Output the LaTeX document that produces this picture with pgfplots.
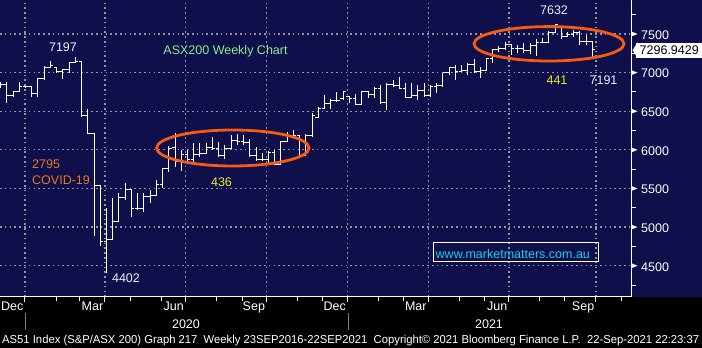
\documentclass[border=0pt]{standalone}
\usepackage{pgfplots}
\pgfplotsset{compat=1.18}
\usepackage{pgfplotstable}
\usepackage{graphicx}
\usepackage{fontspec}
\setmainfont{Liberation Sans}
\definecolor{bgnavy}{RGB}{15,15,75}
\definecolor{gridgray}{RGB}{150,150,150}
\definecolor{annwhite}{RGB}{235,240,255}
\definecolor{anngreen}{RGB}{140,235,140}
\definecolor{annorange}{RGB}{235,120,30}
\definecolor{annyellow}{RGB}{235,235,40}
\definecolor{ellred}{RGB}{250,90,15}
\definecolor{urlcyan}{RGB}{20,210,230}
\newcommand\lab{\fontsize{12.5}{15}\selectfont}

\pgfplotstableread{
u o h l c
1 6830 6880 6800 6846
2 6846 6880 6605 6710
3 6710 6760 6690 6750
4 6750 6880 6745 6816
5 6816 6830 6795 6821
6 6821 6830 6680 6735
7 6735 6930 6680 6926
8 6926 7080 6905 7065
9 7065 7150 7056 7090
10 7060 7065 6990 7017
11 7017 7043 6915 7040
12 7040 7141 7000 7125
13 7130 7197 7120 7139
14 7139 7141 6429 6441
15 6441 6525 6210 6217
16 6217 6217 4890 5539
17 5539 5545 4755 4817
18 4817 5247 4402 4842
19 4842 5376 4840 5068
20 5068 5441 5060 5388
21 5388 5570 5350 5488
22 5488 5490 5135 5242
23 5242 5440 5220 5245
24 5245 5441 5200 5391
25 5391 5480 5308 5405
26 5405 5609 5400 5550
27 5550 5770 5505 5755
28 5755 6045 5713 6020
29 6036 6218 5778 5847
30 5847 5998 5730 5942
31 5942 5998 5826 5880
32 5880 6090 5805 5940
33 5940 6085 5911 5956
34 5956 6085 5950 6033
35 6033 6160 5998 6020
36 6020 6106 5911 5928
37 5928 6063 5880 6015
38 6015 6192 6007 6127
39 6127 6205 6063 6110
40 6110 6190 6063 6100
41 6100 6136 5911 5933
42 5933 6033 5860 5870
43 5870 5963 5860 5870
44 5870 5989 5825 5965
45 5965 5998 5804 5810
46 5810 6119 5805 6102
47 6102 6235 6100 6176
48 6176 6257 6162 6180
49 6180 6192 5925 5927
50 5927 6200 5920 6190
51 6190 6473 6170 6440
52 6420 6560 6408 6539
53 6539 6710 6538 6603
54 6603 6654 6530 6637
55 6637 6753 6623 6642
56 6660 6760 6645 6753
57 6697 6697 6603 6667
58 6667 6723 6580 6587
59 6587 6760 6585 6757
60 6757 6760 6667 6715
61 6715 6818 6667 6800
62 6800 6840 6594 6607
63 6607 6862 6516 6841
64 6841 6904 6810 6830
65 6830 6947 6784 6793
66 6793 6862 6667 6673
67 6673 6862 6667 6710
68 6710 6840 6645 6767
69 6767 6862 6688 6708
70 6708 6840 6680 6824
71 6824 6862 6740 6828
72 6828 7000 6818 6995
73 6995 7070 6969 7063
74 7063 7099 6904 7017
75 7017 7099 7012 7025
76 7025 7120 6969 7105
77 7105 7172 6991 7014
78 7014 7077 6926 7030
79 7030 7185 7025 7179
80 7179 7302 7121 7295
81 7295 7340 7271 7312
82 7312 7400 7293 7369
83 7369 7370 7228 7308
84 7308 7357 7250 7308
85 7308 7380 7250 7290
86 7290 7380 7240 7352
87 7352 7431 7215 7387
88 7387 7444 7380 7392
89 7392 7543 7392 7523
90 7523 7632 7509 7620
91 7595 7600 7431 7461
92 7461 7530 7457 7488
93 7488 7552 7465 7522
94 7522 7543 7357 7400
95 7400 7487 7357 7403
96 7403 7410 7191 7297
}\ohlc

\begin{document}
\begin{tikzpicture}[x=1pt,y=1pt]
\path[use as bounding box] (0,0) rectangle (702,348);
\fill[black] (0,0) rectangle (702,348);
\fill[bgnavy] (0,51) rectangle (702,348);
\begin{axis}[
  at={(0pt,51pt)}, anchor=south west, scale only axis,
  width=631pt, height=297pt,
  xmin=0.9, xmax=102.2, ymin=4095, ymax=7940,
  axis x line*=bottom, axis y line*=right,
  axis line style={white, line width=1pt},
  xtick={4.91,17.75,30.68,43.71,56.71,69.65,82.6,96.57},
  xticklabels={Dec,Mar,Jun,Sep,Dec,Mar,Jun,Sep},
  minor xtick={10.05,13.74,21.77,26.90,35.73,39.9,48.73,52.75,61.73,65.75,74.6,78.75,87.58,91.59,100.74},
  ytick={4500,5000,5500,6000,6500,7000,7500},
  yticklabels={4500,5000,5500,6000,6500,7000,7500},
  minor ytick={4250,4750,5250,5750,6250,6750,7250,7750},
  tick align=outside, major tick length=5pt, minor tick length=4.5pt,
  tick style={white, line width=1pt},
  grid=major,
  major grid style={gridgray, line width=1.2pt, dash pattern=on 1.6pt off 3.2pt},
  x tick label style={anchor=north east, inner sep=0pt, xshift=-1.5pt, font=\lab, text=white},
  y tick label style={anchor=west, inner sep=0pt, xshift=5pt, yshift=-1pt, font=\lab, text=white},
  clip mode=individual,
]
\addplot[draw=none, mark=none,
  error bars/.cd, y dir=both, y explicit, error mark=none,
  error bar style={draw=white, line width=1pt}]
  table[x=u, y expr={(\thisrow{h}+\thisrow{l})/2}, y error expr={(\thisrow{h}-\thisrow{l})/2}] {\ohlc};
\addplot[draw=none, mark=none,
  error bars/.cd, x dir=minus, x fixed=0.48, error mark=none,
  error bar style={draw=white, line width=1pt}]
  table[x=u, y=o] {\ohlc};
\addplot[draw=none, mark=none,
  error bars/.cd, x dir=plus, x fixed=0.48, error mark=none,
  error bar style={draw=white, line width=1pt}]
  table[x=u, y=c] {\ohlc};

\pgfplotsinvokeforeach{4500,5000,5500,6000,6500,7000,7500}{
  \fill[white] (axis cs:102.2,#1) ++(0pt,2.6pt) -- ++(6.5pt,-2.6pt) -- ++(-6.5pt,-2.6pt) -- cycle;
}
\fill[white] ([xshift=1.5pt]axis cs:102.2,7290) -- ++(5pt,7.5pt) -- ++(0pt,-15pt) -- cycle;
\node[anchor=west, fill=white, text=black, font=\lab, inner xsep=3.5pt, inner ysep=3pt] at ([xshift=5pt]axis cs:102.2,7290) {7296.9429};
\end{axis}

% ellipses
\draw[ellred, line width=2.8pt] (232.8,200) ellipse [x radius=76.2, y radius=18];
\draw[ellred, line width=2.8pt] (549,304.2) ellipse [x radius=75, y radius=17.2];

% annotations
\node[anchor=base, inner sep=0pt, text=annwhite, font=\lab] at (63,296) {7197};
\node[anchor=base, inner sep=0pt, text=anngreen, font=\lab] at (225.5,293) {ASX200 Weekly Chart};
\node[anchor=base west, inner sep=0pt, text=annorange, font=\lab] at (32,179.7) {2795};
\node[anchor=base west, inner sep=0pt, text=annorange, font=\lab] at (32,163) {COVID-19};
\node[anchor=base, inner sep=0pt, text=annyellow, font=\lab] at (221.5,161.3) {436};
\node[anchor=base, inner sep=0pt, text=annwhite, font=\lab] at (126,65.7) {4402};
\node[anchor=base, inner sep=0pt, text=annwhite, font=\lab] at (554,333) {7632};
\node[anchor=base, inner sep=0pt, text=annyellow, font=\lab] at (557,263) {441};
\node[anchor=base, inner sep=0pt, text=annwhite, font=\lab] at (603.5,263) {7191};
\draw[white, line width=1pt] (433,86) rectangle (598,105);
\node[anchor=base west, inner sep=0pt, text=urlcyan, font=\lab] at (435.5,89.7) {www.marketmatters.com.au};

% year separators and labels
\draw[gray, line width=1pt] (25,18) -- (25,35);
\draw[gray, line width=1pt] (348,18) -- (348,35);
\node[anchor=base, inner sep=0pt, text=white, font=\lab] at (186,19.7) {2020};
\node[anchor=base, inner sep=0pt, text=white, font=\lab] at (489,19.7) {2021};

% footer
\node[anchor=base west, inner sep=0pt, text=white] at (2,4) {\resizebox{697pt}{\height}{\fontsize{11.5}{13}\selectfont AS51 Index (S\&P/ASX 200) Graph 217\ \ Weekly 23SEP2016-22SEP2021\ \ Copyright\textcopyright\ 2021 Bloomberg Finance L.P.\ \ 22-Sep-2021 22:23:37}};
\end{tikzpicture}
\end{document}
